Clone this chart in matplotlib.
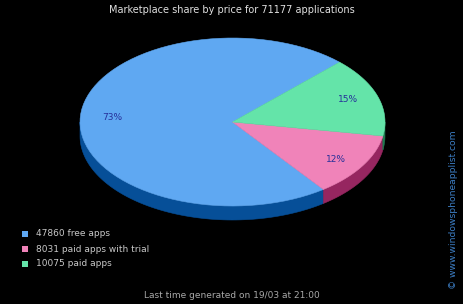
import numpy as np
import matplotlib.pyplot as plt
from matplotlib.patches import Polygon, Rectangle

# ---------------------------------------------------
# DATA
# ---------------------------------------------------
labels = ["free apps", "paid apps with trial", "paid apps"]
counts = [47860, 8031, 10075]
total_apps = 71177
top_colors = ["#5fa8f2", "#f083b9", "#64e4a9"]
side_colors = ["#064f98", "#962660", "#1f7a50"]

title = "Marketplace share by price for %d applications" % total_apps
footer = "Last time generated on 19/03 at 21:00"
credit = "\u00a9 www.windowsphoneapplist.com"

# ---------------------------------------------------
# GEOMETRY (pixel space)
# ---------------------------------------------------
W, H = 464, 304
cx, cy = 232.5, 122.0
rx, ry = 152.5, 84.0
depth = 14.0
start_angle = 45.4

fig = plt.figure(figsize=(W / 100, H / 100), dpi=100, facecolor="black")
ax = fig.add_axes([0, 0, 1, 1])
ax.set_xlim(0, W)
ax.set_ylim(H, 0)
ax.axis("off")
ax.set_facecolor("black")


def edge(t0, t1, n=80):
    t = np.radians(np.linspace(t0, t1, n))
    return cx + rx * np.cos(t), cy - ry * np.sin(t)


fractions = np.array(counts) / sum(counts)
bounds = start_angle + np.concatenate([[0], np.cumsum(fractions) * 360])

# side walls (front half only, angles 180..360 mod 360)
for i in range(len(counts)):
    a0, a1 = bounds[i], bounds[i + 1]
    for k in range(-1, 3):
        lo = max(a0, 180 + 360 * k)
        hi = min(a1, 360 + 360 * k)
        if hi > lo:
            x, y = edge(lo, hi)
            pts = np.column_stack([np.concatenate([x, x[::-1]]),
                                   np.concatenate([y, y[::-1] + depth])])
            ax.add_patch(Polygon(pts, closed=True, fc=side_colors[i],
                                 ec=side_colors[i], lw=0.4))

# top faces
for i in range(len(counts)):
    x, y = edge(bounds[i], bounds[i + 1])
    pts = np.column_stack([np.concatenate([[cx], x]), np.concatenate([[cy], y])])
    ax.add_patch(Polygon(pts, closed=True, fc=top_colors[i],
                         ec=top_colors[i], lw=0.4))

# percentage labels
label_pos = [(112, 117), (336, 159), (348, 100)]
for i, (lx, ly) in enumerate(label_pos):
    ax.text(lx, ly, "%d%%" % round(fractions[i] * 100), color="#26309a",
            fontsize=6.5, ha="center", va="center")

# legend
for i in range(len(counts)):
    yy = 234 + 15 * i
    ax.add_patch(Rectangle((22, yy - 3), 6, 6, fc=top_colors[i], ec="none"))
    ax.text(36, yy, "%d %s" % (counts[i], labels[i]), color="#c8c8c8",
            fontsize=6.5, ha="left", va="center")

ax.text(232, 10, title, color="#e0e0e0", fontsize=7, ha="center", va="center")
ax.text(232, 295, footer, color="#a8a8a8", fontsize=6.5, ha="center", va="center")
ax.text(454, 210, credit, color="#3d7fc6", fontsize=6.6, rotation=90,
        ha="center", va="center")

plt.savefig("out.png", dpi=100, facecolor="black")
